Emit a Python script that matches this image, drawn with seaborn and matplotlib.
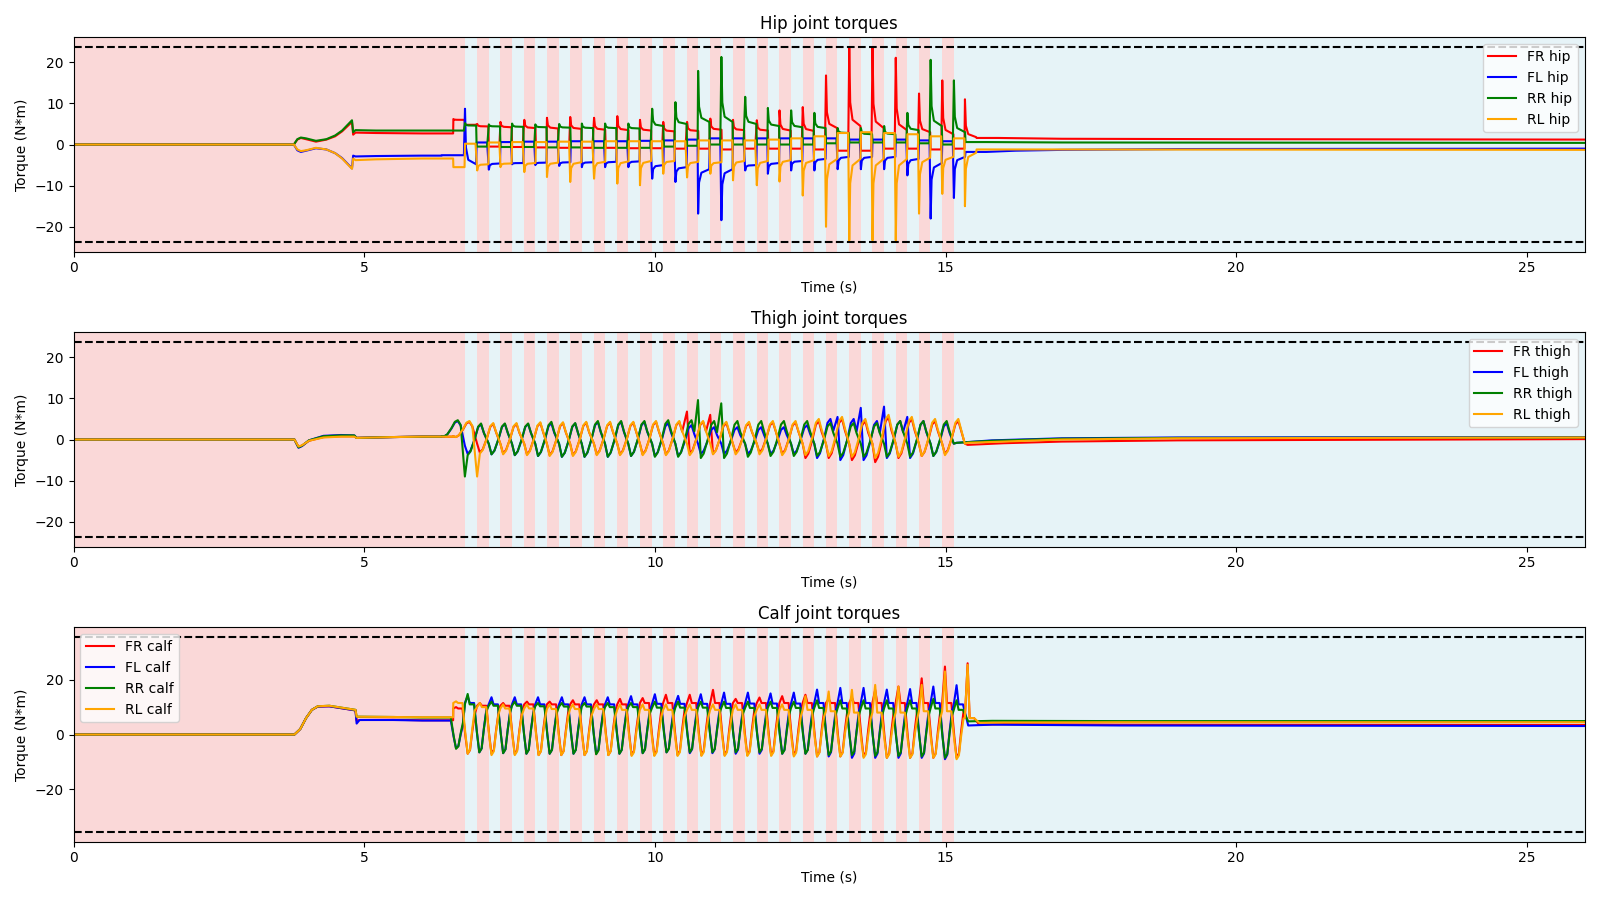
import matplotlib
matplotlib.use("Agg")
import matplotlib.pyplot as plt
import numpy as np
import pandas as pd
import seaborn as sns

T_END = 26.0
HIP_LIMIT = 23.7
THIGH_LIMIT = 23.7
CALF_LIMIT = 35.55

# Gait-phase shading (pink = one diagonal pair in stance, blue = the other)
PINK_STARTS = [0.0, 6.94, 7.34, 7.75, 8.14, 8.54, 8.95, 9.35, 9.74, 10.14, 10.55,
               10.95, 11.34, 11.75, 12.14, 12.54, 12.94, 13.34, 13.74, 14.14, 14.54, 14.94]
BLUE_STARTS = [6.73, 7.14, 7.54, 7.94, 8.35, 8.74, 9.14, 9.54, 9.95, 10.35, 10.74,
               11.14, 11.55, 11.94, 12.34, 12.74, 13.14, 13.54, 13.94, 14.34, 14.74, 15.14]

# Phase start times of the two diagonal leg pairs (A: FL+RR, B: FR+RL)
T_A = [6.33, 6.73, 7.14, 7.54, 7.94, 8.35, 8.74, 9.14, 9.54, 9.95, 10.35, 10.74,
       11.14, 11.55, 11.94, 12.34, 12.74, 13.14, 13.54, 13.94, 14.34, 14.74, 15.14]
T_B = [6.53, 6.94, 7.34, 7.75, 8.14, 8.54, 8.95, 9.35, 9.74, 10.14, 10.55, 10.95,
       11.34, 11.75, 12.14, 12.54, 12.94, 13.34, 13.74, 14.14, 14.54, 14.94, 15.33]

# ---------------- HIP ----------------
PRE_T_HIP = [0, 3.79, 3.85, 3.91, 4.0, 4.17, 4.35, 4.5, 4.62, 4.79, 4.81, 4.85, 5.2, 6.0]
PRE_HIP_FR = [0, 0, 1.2, 1.6, 1.3, 0.7, 1.2, 2.0, 3.2, 5.5, 2.4, 2.9, 2.8, 2.7]
PRE_HIP_FL = [0, 0, -1.4, -1.8, -1.5, -0.9, -1.2, -2.1, -3.3, -5.8, -2.7, -2.9, -2.8, -2.7]
PRE_HIP_RR = [0, 0, 1.3, 1.7, 1.5, 0.9, 1.3, 2.2, 3.4, 5.9, 3.0, 3.5, 3.4, 3.4]
PRE_HIP_RL = [0, 0, -1.2, -1.6, -1.4, -0.8, -1.2, -2.1, -3.4, -5.9, -3.4, -3.8, -3.6, -3.4]

HIP_RR_SPK = [3.4, 5.2, 4.9, 5.1, 4.9, 5.0, 5.1, 5.1, 5.1, 8.7, 10.3, 17.9, 21.3, 11.6, 8.9, 8.3, 7.7, 4.0, 4.0, 4.5, 7.7, 20.6, 15.6]
HIP_RR_HI = [3.4, 4.6, 4.4, 4.3, 4.2, 4.1, 4.0, 4.0, 3.9, 4.5, 5.0, 5.5, 5.5, 5.0, 4.5, 4.2, 4.0, 2.8, 2.5, 2.5, 3.5, 4.5, 3.0]
HIP_RR_LO = [3.4, -0.5, -0.6, -0.6, -0.7, -0.7, -0.8, -0.8, -0.8, -0.5, -0.3, 0.0, 0.0, 0.0, 0.0, 0.0, 0.3, 0.5, 0.5, 0.5, 0.3, 0.0, 0.6]

HIP_FL_SPK = [-2.6, 8.7, -6.1, -4.8, -5.0, -5.2, -5.5, -5.5, -5.5, -8.3, -9.1, -16.8, -18.4, -6.3, -7.1, -6.3, -6.3, -6.0, -6.0, -6.0, -7.5, -18.0, -13.0]
HIP_FL_HI = [-2.6, -4.8, -4.6, -4.5, -4.4, -4.3, -4.3, -4.2, -4.1, -5.0, -5.5, -6.0, -6.0, -5.0, -4.5, -4.0, -3.5, -3.0, -3.0, -3.0, -3.5, -4.5, -3.0]
HIP_FL_LO = [-2.6, 0.5, 0.6, 0.7, 0.7, 0.8, 0.8, 0.8, 0.9, 1.0, 1.2, 1.5, 1.5, 1.5, 1.5, 1.5, 1.5, 1.2, 1.2, 1.2, 1.0, 0.8, -1.8]

HIP_FR_SPK = [6.2, 5.0, 5.5, 6.0, 6.5, 6.7, 6.5, 6.9, 6.0, 5.5, 5.5, 6.3, 6.0, 5.9, 8.3, 9.1, 16.8, 23.7, 23.7, 21.1, 12.4, 15.6, 11.0]
HIP_FR_HI = [6.0, 4.4, 4.2, 4.0, 3.9, 3.8, 3.6, 3.5, 3.4, 3.2, 3.3, 3.6, 3.5, 3.4, 3.4, 3.3, 4.0, 4.5, 4.0, 3.5, 3.0, 2.5, 1.8]
HIP_FR_LO = [4.8, -0.5, -0.6, -0.7, -0.8, -0.8, -0.8, -0.9, -0.9, -1.0, -1.0, -1.2, -1.0, -1.0, -1.0, -1.2, -1.5, -1.5, -1.0, -1.0, -1.2, -1.0, 1.6]

HIP_RL_SPK = [-5.5, -6.3, -5.5, -6.7, -7.9, -9.1, -8.3, -9.5, -9.9, -7.1, -8.0, -7.1, -8.7, -9.9, -9.0, -12.4, -20.0, -23.3, -23.3, -23.3, -16.8, -12.0, -15.0]
HIP_RL_HI = [-5.5, -4.8, -4.6, -4.5, -4.4, -4.3, -4.2, -4.1, -4.0, -4.0, -4.2, -4.3, -4.0, -4.0, -3.8, -3.8, -3.5, -3.5, -3.5, -3.5, -3.2, -3.0, -2.0]
HIP_RL_LO = [0.2, 0.5, 0.6, 0.6, 0.7, 0.7, 0.8, 0.8, 0.8, 0.8, 1.0, 1.0, 1.0, 1.2, 1.5, 2.0, 2.8, 3.0, 2.8, 2.5, 2.0, 1.5, -1.2]

TAIL_HIP_FR = ([15.9, 17.0, 20.0, 26.0], [1.6, 1.4, 1.3, 1.2])
TAIL_HIP_RL = ([15.9, 17.0, 26.0], [-1.2, -1.2, -1.3])
TAIL_HIP_RR = ([15.7, 17.0, 26.0], [0.6, 0.5, 0.4])
TAIL_HIP_FL = ([15.7, 16.2, 17.0, 19.0, 26.0], [-1.8, -1.5, -1.3, -1.1, -1.0])

# ---------------- THIGH ----------------
PRE_T_TH = [0, 3.8, 3.87, 3.93, 4.05, 4.3, 4.6, 4.83, 4.87, 5.5, 6.0]
PRE_TH_FR = [0, 0, -1.8, -1.5, -0.3, 0.6, 0.8, 0.8, 0.4, 0.6, 0.7]
PRE_TH_FL = [0, 0, -2.0, -1.6, -0.2, 0.9, 1.1, 1.0, 0.4, 0.6, 0.7]
PRE_TH_RR = [0, 0, -1.9, -1.5, -0.2, 0.8, 1.0, 1.0, 0.4, 0.6, 0.7]
PRE_TH_RL = [0, 0, -1.7, -1.4, -0.3, 0.5, 0.7, 0.7, 0.4, 0.6, 0.7]

TH_RR_SV = [0.8, -9.0, -1.0, -1.0, -1.0, -1.0, -1.0, -1.0, -1.0, -1.0, -1.0, 9.6, 8.8, -1.0, -1.0, -1.0, -1.0, -1.0, -1.0, -1.0, -1.0, -1.0, -1.0]
TH_RR_TR = [0.8, -3.8, -3.6, -3.8, -4.0, -4.2, -4.2, -4.2, -4.0, -4.2, -4.2, -4.5, -4.5, -4.2, -4.0, -4.0, -4.0, -4.2, -4.2, -4.2, -4.2, -4.0, -0.8]
TH_RR_PK = [4.7, 3.9, 3.9, 3.9, 4.3, 4.0, 4.5, 4.5, 4.5, 4.7, 4.7, 4.5, 4.5, 4.5, 4.5, 4.5, 4.0, 4.0, 4.0, 4.5, 4.5, 4.5, -0.5]

TH_FL_SV = [0.8, -1.5, -1.0, -1.0, -1.0, -1.0, -1.0, -1.0, -1.0, -1.0, -1.0, -1.0, -1.0, -1.0, -1.0, -1.0, -1.0, 5.5, 7.7, 8.0, 5.5, -1.0, -1.0]
TH_FL_TR = [0.8, -3.5, -3.6, -3.8, -4.0, -4.2, -4.2, -4.2, -4.0, -4.0, -4.0, -3.5, -3.5, -3.5, -3.5, -3.5, -4.5, -5.0, -5.0, -4.5, -4.5, -4.0, -0.8]
TH_FL_PK = [4.5, 3.7, 3.8, 3.8, 4.0, 3.9, 4.3, 4.3, 4.3, 4.0, 3.5, 3.0, 3.0, 3.0, 3.0, 3.5, 5.0, 5.0, 4.5, 4.5, 4.5, 4.0, -0.3]

TH_FR_SV = [0.8, -1.0, -1.0, -1.0, -1.0, -1.0, -1.0, -1.0, -1.0, -1.0, 6.8, 6.0, -1.0, -1.0, -1.0, -1.0, -1.0, -1.0, -1.0, -1.0, -1.0, -1.0, -1.0]
TH_FR_TR = [0.6, -3.2, -3.4, -3.6, -3.8, -3.8, -3.6, -3.6, -3.6, -3.6, -3.5, -3.5, -3.2, -3.2, -3.5, -4.5, -4.5, -5.0, -5.5, -4.5, -4.0, -3.5, -1.3]
TH_FR_PK = [4.3, 3.8, 3.8, 4.0, 4.0, 4.1, 4.1, 4.1, 4.3, 4.3, 4.3, 4.0, 4.0, 4.2, 4.2, 4.5, 5.0, 4.5, 5.5, 5.0, 4.5, 4.5, -1.2]

TH_RL_SV = [0.8, -9.0, -1.0, -1.0, -1.0, -1.0, -1.0, -1.0, -1.0, -1.0, -1.0, -1.0, -1.0, -1.0, -1.0, -1.0, -1.0, -1.0, -1.0, -1.0, -1.0, -1.0, -1.0]
TH_RL_TR = [0.6, -3.4, -3.6, -3.8, -4.0, -4.0, -3.8, -3.8, -3.8, -3.8, -3.8, -3.6, -3.6, -3.6, -3.8, -3.8, -4.0, -4.2, -4.5, -4.2, -4.0, -3.8, -0.8]
TH_RL_PK = [4.5, 4.0, 4.0, 4.2, 4.2, 4.3, 4.3, 4.3, 4.5, 4.5, 4.5, 4.3, 4.3, 4.5, 4.5, 5.0, 5.5, 5.0, 6.0, 5.5, 5.0, 5.0, -0.6]

TAIL_TH_FR = ([16.0, 17.0, 19.0, 26.0], [-0.9, -0.5, -0.2, 0.1])
TAIL_TH_RL = ([16.0, 17.0, 19.0, 26.0], [-0.5, 0.0, 0.3, 0.5])
TAIL_TH_RR = ([15.8, 17.0, 19.0, 26.0], [-0.3, 0.2, 0.4, 0.5])
TAIL_TH_FL = ([15.8, 17.0, 19.0, 26.0], [-0.2, 0.3, 0.5, 0.6])

# ---------------- CALF ----------------
PRE_T_CA = [0, 3.8, 3.9, 4.0, 4.1, 4.2, 4.4, 4.85, 4.87, 4.92, 5.5, 6.0]
PRE_CA_FR = [0, 0, 2.0, 6.0, 9.0, 10.2, 10.3, 8.8, 5.0, 5.3, 5.4, 5.2]
PRE_CA_FL = [0, 0, 2.0, 6.0, 9.0, 10.2, 10.3, 8.8, 4.0, 5.3, 5.3, 5.1]
PRE_CA_RR = [0, 0, 2.0, 6.0, 9.0, 10.3, 10.5, 9.0, 6.5, 6.5, 6.4, 6.2]
PRE_CA_RL = [0, 0, 2.0, 6.0, 9.0, 10.3, 10.5, 9.0, 6.5, 6.5, 6.4, 6.3]

CA_RR_SPK = [6.2, 14.8, 12.0, 12.0, 11.5, 11.5, 11.5, 11.5, 11.5, 12.0, 12.0, 12.0, 12.0, 12.0, 12.0, 12.0, 12.5, 12.5, 12.5, 12.5, 12.5, 13.0, 12.5]
CA_RR_PL = [6.2, 11.0, 10.5, 10.5, 10.3, 10.2, 10.2, 10.0, 10.0, 9.8, 9.8, 9.8, 9.7, 9.7, 9.7, 9.7, 9.7, 9.5, 9.5, 9.5, 9.5, 9.5, 9.0]
CA_RR_TR = [-5.2, -6.5, -6.8, -7.0, -7.0, -7.0, -7.2, -7.0, -6.8, -6.5, -6.5, -6.5, -6.5, -6.5, -7.0, -7.0, -7.5, -7.5, -7.8, -7.8, -8.0, -8.5, 4.8]

CA_FL_SPK = [5.1, 14.0, 13.6, 13.6, 13.6, 13.6, 13.6, 13.6, 14.0, 14.7, 14.1, 14.7, 15.3, 15.3, 15.0, 15.3, 16.4, 17.0, 17.0, 16.4, 16.6, 17.5, 18.0]
CA_FL_PL = [5.1, 11.5, 11.0, 11.0, 11.0, 11.0, 11.0, 11.0, 11.0, 11.2, 11.2, 11.2, 11.2, 11.3, 11.3, 11.3, 11.5, 11.5, 11.5, 11.5, 11.5, 11.5, 11.0]
CA_FL_TR = [-5.0, -6.5, -6.8, -7.0, -7.0, -7.0, -7.0, -7.0, -6.8, -6.5, -6.8, -6.8, -7.0, -7.0, -7.0, -7.0, -8.0, -8.5, -8.5, -8.5, -8.5, -9.0, 3.3]

CA_FR_SPK = [10.0, 11.5, 11.5, 12.0, 12.0, 12.5, 12.5, 13.0, 13.3, 14.5, 14.5, 16.3, 13.0, 13.5, 14.0, 14.5, 13.0, 13.5, 16.3, 17.5, 20.5, 24.8, 26.0]
CA_FR_PL = [9.5, 10.5, 10.5, 11.0, 11.0, 11.0, 11.0, 11.0, 11.5, 11.5, 11.5, 11.5, 11.5, 11.5, 11.5, 11.5, 11.5, 11.5, 11.5, 11.5, 11.5, 11.5, 6.0]
CA_FR_TR = [-7.0, -7.0, -7.2, -7.5, -7.5, -7.5, -7.5, -7.5, -7.5, -7.5, -7.5, -7.5, -7.5, -7.5, -7.5, -8.0, -8.0, -8.0, -8.5, -8.5, -8.5, -8.5, 3.6]

CA_RL_SPK = [12.1, 11.5, 11.0, 11.0, 11.0, 11.0, 11.0, 11.0, 11.0, 11.0, 11.0, 11.0, 11.0, 11.0, 11.0, 14.0, 15.7, 16.3, 18.1, 17.5, 18.1, 23.0, 25.4]
CA_RL_PL = [11.5, 10.0, 9.5, 9.5, 9.3, 9.3, 9.3, 9.0, 9.0, 9.0, 9.0, 9.0, 9.0, 9.0, 9.0, 9.0, 8.5, 8.0, 8.0, 8.0, 8.5, 8.5, 6.0]
CA_RL_TR = [-7.0, -7.5, -7.5, -7.5, -7.5, -7.5, -7.5, -7.8, -7.8, -7.8, -7.8, -7.8, -7.8, -7.8, -8.0, -8.0, -8.0, -8.5, -8.5, -8.5, -8.5, -9.0, 4.3]

TAIL_CA_FR = ([16.0, 18.0, 26.0], [3.8, 3.6, 3.5])
TAIL_CA_RL = ([16.0, 18.0, 26.0], [4.4, 4.5, 4.5])
TAIL_CA_RR = ([15.8, 18.0, 26.0], [5.0, 4.9, 4.9])
TAIL_CA_FL = ([15.8, 18.0, 26.0], [3.6, 3.3, 3.1])

LEGS = ["FR", "FL", "RR", "RL"]
COLORS = {"FR": "red", "FL": "blue", "RR": "green", "RL": "orange"}


def hip_curve(pre_t, pre_v, starts, spk, hi, lo, tail):
    t, v = list(pre_t), list(pre_v)
    t.append(starts[0]); v.append(pre_v[-1])
    for t0, s, h, l in zip(starts, spk, hi, lo):
        t += [t0 + 0.004, t0 + 0.02, t0 + 0.06, t0 + 0.196, t0 + 0.204, t0 + 0.385]
        v += [s, h + 0.3 * (s - h), h + 0.08 * (s - h), h, l, l]
    t += tail[0]; v += tail[1]
    return t, v


def thigh_curve(pre_t, pre_v, starts, sv, tr, pk, tail):
    # rounded trough -> peak shape per phase
    t, v = list(pre_t), list(pre_v)
    t.append(starts[0]); v.append(pre_v[-1])
    n = len(starts)
    for i, (t0, a, b, c) in enumerate(zip(starts, sv, tr, pk)):
        d = c - b
        tt = [t0 + 0.002, t0 + 0.05, t0 + 0.10, t0 + 0.17, t0 + 0.23, t0 + 0.28, t0 + 0.33]
        vv = [a, b, b + 0.12 * d, b + 0.5 * d, c - 0.1 * d, c, c - 0.3 * d]
        if i == n - 1:
            tt, vv = tt[:2], vv[:2]
        t += tt; v += vv
    t += tail[0]; v += tail[1]
    return t, v


def calf_curve(pre_t, pre_v, starts, spk, pl, tr, tail):
    # plateau with touchdown spike, then U-shaped swing dip
    t, v = list(pre_t), list(pre_v)
    t.append(starts[0]); v.append(pre_v[-1])
    n = len(starts)
    for i, (t0, s, p, r) in enumerate(zip(starts, spk, pl, tr)):
        d = p - r
        tt = [t0 + 0.002, t0 + 0.05, t0 + 0.085, t0 + 0.16, t0 + 0.21, t0 + 0.25,
              t0 + 0.29, t0 + 0.33, t0 + 0.37]
        vv = [p, s, p, p, p - 0.6 * d, r, r + 0.08 * d, r + 0.5 * d, p - 0.15 * d]
        if i == n - 1:
            # last step: touchdown spike, then settle
            tt = [t0 + 0.002, t0 + 0.05, t0 + 0.085, t0 + 0.16, t0 + 0.25]
            vv = [p, s, p, p, r]
        t += tt; v += vv
    t += tail[0]; v += tail[1]
    return t, v


series = {
    "hip": {
        "FR": hip_curve(PRE_T_HIP, PRE_HIP_FR, T_B, HIP_FR_SPK, HIP_FR_HI, HIP_FR_LO, TAIL_HIP_FR),
        "FL": hip_curve(PRE_T_HIP, PRE_HIP_FL, T_A, HIP_FL_SPK, HIP_FL_HI, HIP_FL_LO, TAIL_HIP_FL),
        "RR": hip_curve(PRE_T_HIP, PRE_HIP_RR, T_A, HIP_RR_SPK, HIP_RR_HI, HIP_RR_LO, TAIL_HIP_RR),
        "RL": hip_curve(PRE_T_HIP, PRE_HIP_RL, T_B, HIP_RL_SPK, HIP_RL_HI, HIP_RL_LO, TAIL_HIP_RL),
    },
    "thigh": {
        "FR": thigh_curve(PRE_T_TH, PRE_TH_FR, T_B, TH_FR_SV, TH_FR_TR, TH_FR_PK, TAIL_TH_FR),
        "FL": thigh_curve(PRE_T_TH, PRE_TH_FL, T_A, TH_FL_SV, TH_FL_TR, TH_FL_PK, TAIL_TH_FL),
        "RR": thigh_curve(PRE_T_TH, PRE_TH_RR, T_A, TH_RR_SV, TH_RR_TR, TH_RR_PK, TAIL_TH_RR),
        "RL": thigh_curve(PRE_T_TH, PRE_TH_RL, T_B, TH_RL_SV, TH_RL_TR, TH_RL_PK, TAIL_TH_RL),
    },
    "calf": {
        "FR": calf_curve(PRE_T_CA, PRE_CA_FR, T_B, CA_FR_SPK, CA_FR_PL, CA_FR_TR, TAIL_CA_FR),
        "FL": calf_curve(PRE_T_CA, PRE_CA_FL, T_A, CA_FL_SPK, CA_FL_PL, CA_FL_TR, TAIL_CA_FL),
        "RR": calf_curve(PRE_T_CA, PRE_CA_RR, T_A, CA_RR_SPK, CA_RR_PL, CA_RR_TR, TAIL_CA_RR),
        "RL": calf_curve(PRE_T_CA, PRE_CA_RL, T_B, CA_RL_SPK, CA_RL_PL, CA_RL_TR, TAIL_CA_RL),
    },
}

PANELS = [("hip", "Hip joint torques", HIP_LIMIT, "upper right"),
          ("thigh", "Thigh joint torques", THIGH_LIMIT, "upper right"),
          ("calf", "Calf joint torques", CALF_LIMIT, "upper left")]

fig, axes = plt.subplots(3, 1, figsize=(16, 9), dpi=100)

for ax, (joint, title, lim, loc) in zip(axes, PANELS):
    for i, ps in enumerate(PINK_STARTS):
        ax.axvspan(ps, BLUE_STARTS[i], color="lightcoral", alpha=0.3, lw=0)
    for i, bs in enumerate(BLUE_STARTS):
        end = PINK_STARTS[i + 1] if i + 1 < len(PINK_STARTS) else T_END
        ax.axvspan(bs, end, color="lightblue", alpha=0.3, lw=0)
    for leg in LEGS:
        t, v = series[joint][leg]
        df = pd.DataFrame({"Time": t, "Torque": v})
        sns.lineplot(data=df, x="Time", y="Torque", estimator=None, sort=False,
                     color=COLORS[leg], linewidth=1.5, label=f"{leg} {joint}", ax=ax)
    ax.axhline(lim, color="black", linestyle="--", linewidth=1.5)
    ax.axhline(-lim, color="black", linestyle="--", linewidth=1.5)
    ax.set_xlim(0, T_END)
    ax.set_ylim(-1.1 * lim, 1.1 * lim)
    ax.set_title(title)
    ax.set_xlabel("Time (s)")
    ax.set_ylabel("Torque (N*m)")
    ax.legend(loc=loc)

fig.tight_layout()
fig.savefig("out.png", dpi=100)
